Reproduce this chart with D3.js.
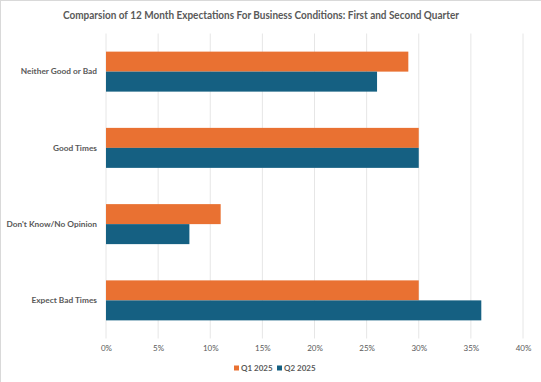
<!DOCTYPE html>
<html><head><meta charset="utf-8">
<script src="https://cdn.jsdelivr.net/npm/d3@7"></script>
<style>html,body{margin:0;padding:0;background:#fff;} svg{display:block;font-family:Lato,sans-serif;}</style>
</head><body>
<script>
const title = "Comparsion of 12 Month Expectations For Business Conditions: First and Second Quarter";
const categories = ["Neither Good or Bad", "Good Times", "Don't Know/No Opinion", "Expect Bad Times"];
const seriesNames = ["Q1 2025", "Q2 2025"];
const q1Values = [29, 30, 11, 30];
const q2Values = [26, 30, 8, 36];
const tickValues = [0, 5, 10, 15, 20, 25, 30, 35, 40];
const colors = ["#E97132", "#156082"];

const W = 541, H = 382;
const m = {left: 106, top: 33.5};
const svg = d3.select("body").append("svg").attr("width", W).attr("height", H);
svg.append("rect").attr("x", 0.5).attr("y", 0.5).attr("width", W + 5).attr("height", H + 5)
  .attr("fill", "#fff").attr("stroke", "#d9d9d9");

const x = d3.scaleLinear().domain([0, 40]).range([m.left, 523]);
const y = d3.scaleBand().domain(categories).range([m.top, 338.5]).paddingInner(0.4754).paddingOuter(0.2377);
const ySub = d3.scaleBand().domain(seriesNames).range([0, y.bandwidth()]);

const t = svg.append("text").attr("x", 261).attr("y", 19).attr("text-anchor", "middle")
  .attr("font-size", 11).attr("font-weight", 700).attr("fill", "#595959").text(title);
t.attr("textLength", 396).attr("lengthAdjust", "spacingAndGlyphs");

svg.append("g").selectAll("line").data(tickValues).join("line")
  .attr("x1", d => x(d)).attr("x2", d => x(d)).attr("y1", m.top).attr("y2", 338.5)
  .attr("stroke", "#e6e6e6").attr("stroke-width", 1);

const data = categories.map((c, i) => ({cat: c, vals: [q1Values[i], q2Values[i]]}));
const g = svg.append("g");
data.forEach(d => {
  d.vals.forEach((v, j) => {
    g.append("rect").attr("x", x(0)).attr("y", y(d.cat) + ySub(seriesNames[j]))
      .attr("width", x(v) - x(0)).attr("height", ySub.bandwidth()).attr("fill", colors[j]);
  });
});

const xAxis = d3.axisBottom(x).tickValues(tickValues).tickFormat(d => d + "%").tickSize(0).tickPadding(0);
const xa = svg.append("g").attr("transform", `translate(0,${345.5})`).call(xAxis);
xa.select(".domain").remove();
xa.selectAll("text").attr("font-size", 8).attr("fill", "#595959").attr("font-family", "Lato, sans-serif").attr("dy", "0.71em");

const yAxis = d3.axisLeft(y).tickSize(0).tickPadding(0);
const ya = svg.append("g").attr("transform", `translate(97,0)`).call(yAxis);
ya.select(".domain").remove();
ya.selectAll("text").attr("font-size", 8.3).attr("font-weight", 700).attr("fill", "#595959").attr("font-family", "Lato, sans-serif");

const leg = svg.append("g");
const legX = [234, 277];
seriesNames.forEach((s, j) => {
  leg.append("rect").attr("x", legX[j]).attr("y", 365.5).attr("width", 5).attr("height", 5).attr("fill", colors[j]);
  leg.append("text").attr("x", legX[j] + 7).attr("y", 368.3).attr("dy", "0.35em")
    .attr("font-size", 8).attr("font-weight", 700).attr("fill", "#595959").text(s);
});
</script>
</body></html>
